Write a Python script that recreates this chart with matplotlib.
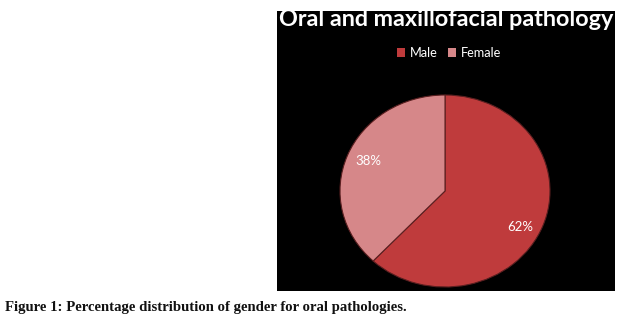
import matplotlib
matplotlib.use("Agg")
import matplotlib.pyplot as plt
from matplotlib.patches import Patch

labels = ["Male", "Female"]
values = [62, 38]
colors = ["#BF3B3C", "#D68789"]
title = "Oral and maxillofacial pathology"
caption = "Figure 1: Percentage distribution of gender for oral pathologies."

W, H = 625, 322
fig = plt.figure(figsize=(W / 100, H / 100), dpi=100)
fig.patch.set_facecolor("white")

def rect(x0, y0, x1, y1):
    return [x0 / W, 1 - y1 / H, (x1 - x0) / W, (y1 - y0) / H]

panel = fig.add_axes(rect(277, 11, 615, 291))
panel.set_facecolor("black")
panel.set_xticks([]); panel.set_yticks([])
for s in panel.spines.values():
    s.set_visible(False)

ax = fig.add_axes(rect(340, 95, 550, 287))
wedges, texts = ax.pie(values, colors=colors, startangle=90, counterclock=False,
                       wedgeprops=dict(edgecolor="#5a1f20", linewidth=0.8))
ax.set_aspect("auto")
ax.set_xlim(-1, 1); ax.set_ylim(-1, 1)
ax.axis("off")

for v, xy in zip(values, [(0.72, -0.38), (-0.73, 0.31)]):
    ax.text(xy[0], xy[1], f"{v}%", color="white", ha="center", va="center",
            fontsize=9.5, family="Lato")

fig.text(446 / W, 1 - 20 / H, title, color="white", fontsize=16.8, fontweight="bold",
         family="Lato", ha="center", va="center")

handles = [Patch(facecolor=c, edgecolor="none") for c in colors]
fig.legend(handles, labels, loc="center", bbox_to_anchor=(449 / W, 1 - 53 / H), ncol=2,
           frameon=False, labelcolor="white", prop=dict(family="Lato", size=9.2),
           handlelength=0.6, handleheight=0.6, handletextpad=0.4, columnspacing=0.8)

fig.text(5 / W, 1 - 307 / H, caption, color="#111111", fontsize=10.6, fontweight="bold",
         family="Liberation Serif", ha="left", va="center")

fig.savefig("out.png", dpi=100)
